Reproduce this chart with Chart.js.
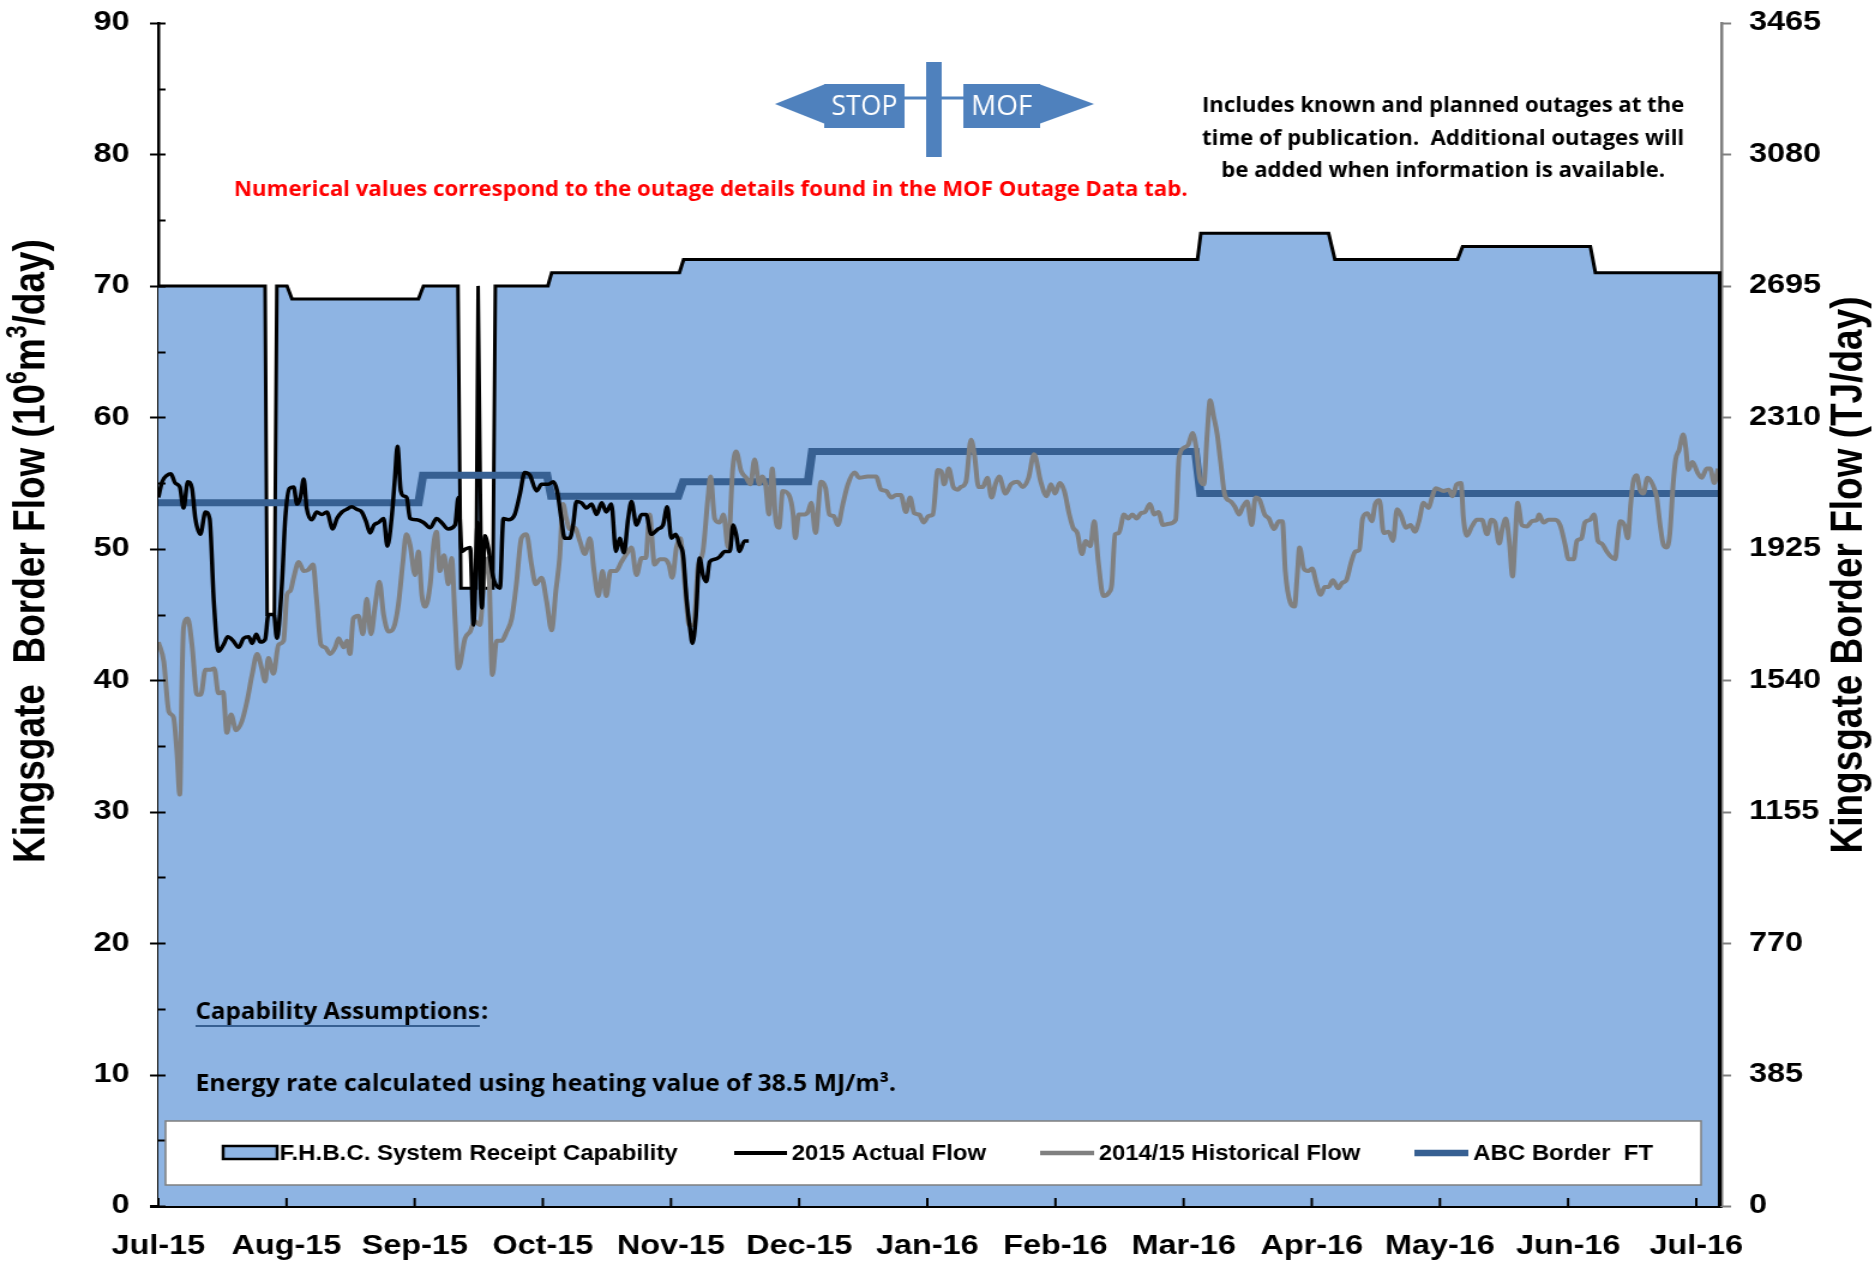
<!DOCTYPE html>
<html>
<head>
<meta charset="utf-8">
<script src="https://cdn.jsdelivr.net/npm/chart.js@4.4.1/dist/chart.umd.min.js"></script>
<style>
html, body { margin: 0; padding: 0; background: #fff; overflow: hidden; }
#wrap { width: 1563px; height: 1263px; transform: scaleX(1.19962); transform-origin: 0 0; }
</style>
</head>
<body>
<div id="wrap"><canvas id="chart" width="1563" height="1263"></canvas></div>
<script>
// x values are days since 1 Jul 2015
var monthLabels = ['Jul-15','Aug-15','Sep-15','Oct-15','Nov-15','Dec-15','Jan-16','Feb-16','Mar-16','Apr-16','May-16','Jun-16','Jul-16'];
var daysPerTick = 30.5;
var lastDay = 372;

var capability = [[0,70],[25.4,70],[25.9,45],[27.6,45],[28.2,70],[30.6,70],[31.8,69],[61.9,69],[63.1,70],[71.3,70],[72,47],[75.6,47],[76.1,70],[76.9,47],[79.6,47],[80.2,70],[92.7,70],[93.6,71],[124,71],[125,72],[247.3,72],[248.1,74],[278.5,74],[280,72],[309.2,72],[310.4,73],[340.8,73],[342,71],[372,71]];

var actualFlow = [[0,53.9],[0.9,55.1],[2.1,55.6],[3,55.7],[4,55.0],[5.1,54.7],[6,53.1],[7,55.1],[8,54.6],[8.8,52.3],[10,51.1],[11.2,52.8],[12.2,52.3],[13.2,46.0],[14.3,42.2],[15.5,42.7],[16.5,43.3],[17.8,43.0],[19.1,42.5],[20.3,43.2],[21.5,43.3],[22.3,42.8],[23.3,43.5],[24.3,42.9],[25.4,43.1],[26.2,45],[27.5,45],[28.2,43.2],[29.4,47.3],[30.2,52.3],[31.2,54.6],[32.2,54.7],[33,53.4],[33.8,53.9],[34.6,55.3],[35.3,53.1],[36.5,52.2],[37.7,52.8],[38.9,52.6],[40.1,52.8],[41.5,51.5],[42.5,52.3],[43.7,52.8],[44.8,53.0],[46,53.2],[47.2,53.0],[48.4,52.8],[49.4,52.1],[50.4,51.2],[51.3,51.8],[52.4,52.0],[53.6,52.3],[54.5,50.2],[55.5,52.3],[56.3,55.4],[56.9,57.8],[57.7,54.4],[58.5,54.0],[59.1,53.9],[59.9,52.3],[61.5,52.2],[63.1,52.0],[64.7,51.6],[66.2,52.3],[67.4,52.0],[69,51.5],[70.6,51.8],[71.4,53.9],[72.2,49.8],[73.2,50],[74.2,50.1],[75,44.2],[76,52],[77,45.5],[77.7,51],[78.5,50.1],[79.7,47.8],[81.3,47.0],[82.1,52.3],[83.3,52.2],[84.8,52.6],[86,54.1],[87.2,55.8],[88.4,55.6],[90,54.4],[91.2,54.9],[92.8,54.9],[94,55.1],[94.9,54.4],[95.9,52.3],[96.7,50.8],[97.9,50.8],[98.7,51.8],[99.5,53.6],[100.7,53.5],[101.9,53.1],[103.1,53.4],[104.3,52.6],[105.5,53.5],[106.6,52.8],[107.8,53.4],[108.9,49.8],[109.8,50.8],[110.8,49.7],[111.8,52.3],[112.6,53.6],[113.8,51.8],[115,52.6],[116.1,52.6],[117.3,51.1],[118.9,51.5],[120.1,51.8],[121.1,53.2],[122.1,50.8],[123.1,51.1],[124.1,50.3],[124.9,49.5],[125.7,46.2],[126.5,44.0],[127.1,42.8],[127.9,44.7],[128.8,49.3],[129.6,48.0],[130.4,47.5],[131.2,49.0],[132.4,49.2],[133.6,49.4],[134.8,49.8],[136,49.8],[136.8,51.8],[137.5,51.1],[138.3,49.8],[139.5,50.6],[140.5,50.6]];

var historicalFlow = [[0,42.9],[1.3,41.4],[2.5,37.6],[3.6,37.2],[4.4,34.6],[5.1,31.3],[5.6,39.7],[6,44],[7,44.7],[8,42.7],[9.2,38.9],[10.1,38.9],[11.2,40.8],[12.4,40.8],[13.3,40.9],[14.3,39.0],[15.4,39.1],[16.3,36.0],[17.3,37.4],[18.5,36.2],[19.9,36.9],[21.1,38.4],[22.3,40.4],[23.5,42.0],[24.6,40.9],[25.4,39.9],[26.2,41.7],[27.4,40.5],[28.6,42.7],[29.8,43.0],[30.6,46.5],[31.4,46.8],[32.2,47.8],[33.4,49.0],[34.6,48.3],[35.7,48.4],[36.8,48.8],[37.7,46.0],[38.7,42.7],[39.7,42.5],[40.9,42.0],[42.1,42.5],[42.9,43.2],[44.1,42.5],[44.9,43.0],[45.6,42.0],[46.4,44.7],[47.6,44.9],[48.7,43.5],[49.6,46.2],[50.6,43.5],[51.6,45.7],[52.6,47.5],[53.6,45.0],[54.8,43.7],[56,44.0],[57.1,45.7],[58.2,49.0],[59,51.1],[59.9,50.3],[61.1,48.0],[61.9,49.8],[62.7,46.5],[63.5,45.6],[64.7,47.3],[65.5,50.3],[66.2,51.3],[67,48.3],[68,49.5],[69,47.3],[69.8,49.3],[70.6,44.7],[71.4,40.9],[73,43.2],[74.2,43.7],[75.3,44.5],[76.5,44.2],[77.7,48.5],[78.5,49.3],[79.5,40.4],[80.5,43.0],[81.7,43.0],[82.9,43.7],[84.1,44.7],[85.2,47.3],[86.4,50.8],[87.6,51.1],[88.8,48.8],[89.8,47.3],[91.2,47.8],[92.4,46.0],[93.6,43.8],[94.6,46.8],[95.5,49.3],[96.3,53.4],[97.1,52.3],[97.9,51.5],[99.1,51.6],[100.3,50.6],[101.5,49.6],[102.7,50.8],[103.7,48.3],[104.7,46.4],[105.7,48.3],[106.6,46.4],[107.6,48.3],[108.9,48.3],[110.2,49.0],[111.4,49.6],[112.6,50.1],[113.8,48.0],[115,49.3],[116,49.3],[116.9,52.6],[118.1,48.8],[119.3,49.2],[120.5,49.2],[121.5,48.8],[122.3,47.8],[123.3,50.1],[124.2,50.8],[125.3,47.3],[126.3,44.2],[127.4,44.2],[128.4,48.5],[129.6,49.8],[130.8,53.9],[131.4,55.5],[132.4,52.3],[133.6,52.0],[134.5,52.6],[135.6,50.1],[136.7,56.1],[137.5,57.4],[138.7,55.9],[139.9,55.4],[140.9,54.9],[141.9,56.8],[143,54.9],[143.7,55.5],[144.5,54.9],[145.3,52.6],[146.1,56.1],[146.9,52.3],[147.7,51.6],[148.6,54.4],[150.2,54.0],[151,52.8],[151.6,50.8],[152.4,52.6],[153.8,52.6],[154.6,52.8],[155.4,53.5],[156.4,51.2],[157.7,55.1],[158.8,54.6],[159.7,52.6],[160.7,52.5],[161.7,51.8],[162.9,53.4],[164.1,54.9],[165.7,55.8],[166.8,55.4],[168.8,55.5],[170.8,55.5],[172,54.5],[173.2,54.4],[174.4,53.9],[175.6,54.1],[176.7,54.1],[177.9,52.8],[178.9,53.9],[179.9,52.7],[181.1,52.6],[182.1,52.0],[183.3,52.5],[184.3,52.6],[185.5,56.0],[186.3,55.9],[187,54.9],[188.1,56.1],[189.2,54.7],[190.2,54.5],[191,54.7],[192.2,55.1],[193.4,58.3],[194.2,57.2],[195.2,54.7],[196.2,54.7],[197.3,55.4],[198.3,53.9],[199.2,54.9],[200.1,55.5],[201.6,54.2],[202.9,54.9],[204.5,55.1],[205.7,54.7],[207.1,55.4],[208.4,57.2],[210,55.1],[211.4,54.0],[212.4,54.9],[213.4,54.2],[214.5,55.0],[215.6,54.4],[216.8,52.6],[217.7,51.6],[218.7,51.2],[219.8,49.6],[220.7,50.6],[221.8,50.2],[222.7,52.1],[223.7,49.0],[224.9,46.4],[226.3,46.7],[226.9,47.3],[227.7,51.1],[228.6,51.2],[229.8,52.6],[230.8,52.3],[231.8,52.6],[232.8,52.3],[233.8,52.7],[234.8,52.8],[236,53.4],[237,52.6],[238,52.8],[239.1,51.8],[240.5,51.9],[242.1,52.2],[242.9,56.9],[244.1,57.7],[245.1,57.9],[246.1,58.8],[247,57.7],[247.8,55.4],[248.8,54.9],[249.6,58.7],[250.3,61.3],[251.2,60.0],[252,58.7],[252.8,56.6],[253.8,54.1],[255.2,53.6],[256.2,53.2],[257.2,52.6],[258.1,53.2],[259.1,53.6],[260.2,51.8],[261.1,53.9],[262.1,53.7],[263.3,52.6],[264.3,52.3],[265.5,51.5],[266.7,52.1],[267.5,52.1],[268.2,48.3],[269.4,45.9],[270.4,45.6],[271,47.8],[271.6,50.1],[272.6,48.5],[273.6,48.3],[274.6,48.5],[275.5,47.5],[276.6,46.5],[277.6,47.1],[278.5,47.1],[279.5,47.6],[280.8,47.0],[281.7,47.4],[282.7,47.6],[283.9,49.0],[284.9,49.8],[285.8,49.9],[286.6,52.3],[287.7,52.7],[288.8,52.1],[289.6,53.4],[290.6,53.7],[291.6,51.2],[292.8,51.3],[293.8,50.6],[294.8,53.0],[295.8,52.5],[296.9,51.6],[298,51.8],[299,51.3],[300,52.1],[301.1,53.5],[302.3,53.1],[303.1,53.9],[304,54.6],[305.9,54.4],[307.1,54.5],[308,54.0],[309,54.9],[310,55.0],[310.6,52.3],[311.4,51.0],[312.6,51.7],[313.8,52.2],[315,52.2],[316.2,51.1],[317.2,52.2],[318.1,52.0],[319.1,50.4],[319.9,51.6],[320.7,52.3],[321.5,50.6],[322.3,47.9],[322.9,50.8],[323.5,53.5],[324.5,51.8],[325.7,51.7],[326.9,52.1],[328.1,52.2],[328.6,52.6],[329.6,52.0],[330.8,52.2],[332.4,52.2],[333.6,51.8],[334.8,50.3],[335.6,49.2],[336.8,49.2],[337.6,50.6],[338.7,50.8],[339.5,52.0],[340.7,52.2],[341.7,52.6],[342.6,50.6],[343.5,50.4],[344.7,49.8],[345.7,49.4],[346.7,49.2],[347.3,50.8],[347.9,52.1],[348.9,51.8],[349.7,50.8],[350.4,53.4],[351,55.1],[351.8,55.6],[352.6,54.5],[353.4,54.2],[354.4,55.4],[355.6,54.9],[356.6,53.9],[357.4,51.8],[358.2,50.3],[359,50.1],[359.7,51.1],[360.5,54.9],[361.1,56.8],[361.9,57.5],[362.9,58.7],[363.5,57.7],[364.1,56.0],[365.1,56.6],[366.3,55.8],[367.3,55.4],[368.5,56.1],[369.3,56.1],[370.3,55.0],[371.2,56.1]];

var abcBorderFT = [[0,53.5],[61.9,53.5],[63,55.6],[92.5,55.6],[93.5,54.0],[123.7,54.0],[124.9,55.1],[154.6,55.1],[155.6,57.4],[246.8,57.4],[248,54.2],[372,54.2]];

var leftMax = 90, leftStep = 10;
var rightMax = 3465, rightStep = 385;

var calibri = '"Open Sans", "Noto Sans", sans-serif';
var areaBlue = '#8EB4E3', ftBlue = '#376092', arrowBlue = '#4F81BD';

function pts(arr) {
	return arr.map(function(p) { return { x: p[0], y: p[1] }; });
}

// draw text squeezed/stretched to a given width
function fitText(ctx, text, x, y, w, align) {
	var m = ctx.measureText(text).width;
	var x0 = align === 'center' ? x - w / 2 : (align === 'right' ? x - w : x);
	ctx.save();
	ctx.translate(x0, y);
	ctx.scale(w / m, 1);
	ctx.textAlign = 'left';
	ctx.fillText(text, 0, 0);
	ctx.restore();
}

// rotated axis title with superscripts
function drawTitle(ctx, parts, cx, cy, size) {
	var mainF = 'bold ' + size + 'px "Liberation Sans", Arial, sans-serif';
	var supF = 'bold ' + Math.round(size * 0.62) + 'px "Liberation Sans", Arial, sans-serif';
	var total = 0;
	parts.forEach(function(p) { ctx.font = p[1] ? supF : mainF; total += ctx.measureText(p[0]).width; });
	ctx.save();
	ctx.translate(cx, cy);
	ctx.rotate(-Math.PI / 2);
	ctx.textBaseline = 'middle';
	ctx.fillStyle = '#000';
	var pos = -total / 2;
	parts.forEach(function(p) {
		ctx.font = p[1] ? supF : mainF;
		ctx.fillText(p[0], pos, p[1] ? -size * 0.32 : 0);
		pos += ctx.measureText(p[0]).width;
	});
	ctx.restore();
}

function noPad(scale) {
	scale.paddingTop = 0;
	scale.paddingBottom = 0;
	scale.paddingLeft = 0;
	scale.paddingRight = 0;
}

var decor = {
	id: 'decor',
	afterDraw: function(chart) {
		var ctx = chart.ctx;
		var xs = chart.scales.x, ys = chart.scales.y, ys2 = chart.scales.y2;
		var area = chart.chartArea;
		var i, p;
		ctx.save();

		// right edge of the capability area
		var last = capability[capability.length - 1];
		ctx.strokeStyle = '#000';
		ctx.lineWidth = 3;
		ctx.beginPath();
		ctx.moveTo(xs.getPixelForValue(last[0]) - 1.5, ys.getPixelForValue(last[1]));
		ctx.lineTo(xs.getPixelForValue(last[0]) - 1.5, ys.getPixelForValue(0));
		ctx.stroke();

		// left axis ticks (major crossing, minor inside)
		ctx.strokeStyle = '#000';
		ctx.lineWidth = 2;
		for (i = 0; i <= leftMax; i += leftStep / 2) {
			p = Math.round(ys.getPixelForValue(i)) + 0.5;
			ctx.beginPath();
			ctx.moveTo(area.left - (i % leftStep === 0 ? 7 : 0), p);
			ctx.lineTo(area.left + 6, p);
			ctx.stroke();
		}
		// right axis ticks
		ctx.strokeStyle = '#808080';
		for (i = 0; i <= rightMax; i += rightStep) {
			p = Math.round(ys2.getPixelForValue(i)) + 0.5;
			ctx.beginPath();
			ctx.moveTo(area.right, p);
			ctx.lineTo(area.right + 8, p);
			ctx.stroke();
		}
		// month ticks, pointing up
		ctx.strokeStyle = '#000';
		for (i = 0; i < monthLabels.length; i++) {
			p = xs.getPixelForValue(i * daysPerTick);
			ctx.beginPath();
			ctx.moveTo(p, area.bottom);
			ctx.lineTo(p, area.bottom - 8);
			ctx.stroke();
		}
		ctx.lineWidth = 3;
		ctx.beginPath();
		ctx.moveTo(area.left - 7, area.bottom + 0.5);
		ctx.lineTo(area.left, area.bottom + 0.5);
		ctx.stroke();

		// axis titles
		drawTitle(ctx, [['Kingsgate  Border Flow (10', false], ['6', true], ['m', false], ['3', true], ['/day)', false]], 27, 551, 37);
		drawTitle(ctx, [['Kingsgate Border Flow (TJ/day)', false]], 1542, 575, 37);

		// legend box
		ctx.fillStyle = '#fff';
		ctx.fillRect(138, 1121, 1280, 64);
		ctx.strokeStyle = '#7f7f7f';
		ctx.lineWidth = 1.5;
		ctx.strokeRect(138, 1121, 1280, 64);
		var ly = 1153;
		ctx.fillStyle = areaBlue;
		ctx.fillRect(186, 1146, 45, 13);
		ctx.strokeStyle = '#000';
		ctx.lineWidth = 2.5;
		ctx.strokeRect(186, 1146, 45, 13);
		ctx.lineCap = 'butt';
		[[612, 656, '#000', 4], [867, 912, '#808080', 4.5], [1179, 1224, ftBlue, 6.5]].forEach(function(s) {
			ctx.strokeStyle = s[2];
			ctx.lineWidth = s[3];
			ctx.beginPath();
			ctx.moveTo(s[0], ly);
			ctx.lineTo(s[1], ly);
			ctx.stroke();
		});
		ctx.fillStyle = '#000';
		ctx.font = 'bold 22px "Liberation Sans", Arial, sans-serif';
		ctx.textBaseline = 'middle';
		fitText(ctx, 'F.H.B.C. System Receipt Capability', 233, ly + 1, 332, 'left');
		fitText(ctx, '2015 Actual Flow', 660, ly + 1, 162, 'left');
		fitText(ctx, '2014/15 Historical Flow', 916, ly + 1, 218, 'left');
		fitText(ctx, 'ABC Border  FT', 1228, ly + 1, 150, 'left');

		// notes
		ctx.fillStyle = '#FF0000';
		ctx.font = 'bold 22px ' + calibri;
		fitText(ctx, 'Numerical values correspond to the outage details found in the MOF Outage Data tab.', 195, 190, 795, 'left');
		ctx.fillStyle = '#000';
		ctx.font = 'bold 21px ' + calibri;
		fitText(ctx, 'Includes known and planned outages at the', 1203, 106, 402, 'center');
		fitText(ctx, 'time of publication.  Additional outages will', 1203, 139, 402, 'center');
		fitText(ctx, 'be added when information is available.', 1203, 171, 370, 'center');
		ctx.font = 'bold 23px ' + calibri;
		fitText(ctx, 'Capability Assumptions', 163, 1012, 237, 'left');
		fitText(ctx, ':', 401, 1012, 6, 'left');
		ctx.lineWidth = 2;
		ctx.beginPath();
		ctx.moveTo(163, 1026);
		ctx.lineTo(400, 1026);
		ctx.stroke();
		fitText(ctx, 'Energy rate calculated using heating value of 38.5 MJ/m\u00B3.', 163, 1084, 584, 'left');

		// STOP / MOF arrow graphic
		ctx.fillStyle = arrowBlue;
		ctx.strokeStyle = arrowBlue;
		ctx.fillRect(687, 84, 67, 44);
		ctx.fillRect(803, 84, 64, 44);
		ctx.fillRect(772, 62, 13, 95);
		ctx.lineWidth = 3;
		ctx.beginPath();
		ctx.moveTo(754, 98); ctx.lineTo(772, 98);
		ctx.moveTo(785, 98); ctx.lineTo(803, 98);
		ctx.stroke();
		ctx.beginPath();
		ctx.moveTo(646, 104); ctx.lineTo(688, 84); ctx.lineTo(688, 124); ctx.closePath();
		ctx.moveTo(912, 104); ctx.lineTo(866, 84); ctx.lineTo(866, 124); ctx.closePath();
		ctx.fill();
		ctx.fillStyle = '#fff';
		ctx.font = '28px ' + calibri;
		fitText(ctx, 'STOP', 720.5, 107, 55, 'center');
		fitText(ctx, 'MOF', 835, 107, 51, 'center');

		ctx.restore();
	}
};

var tickFont = { family: '"Liberation Sans", Arial, sans-serif', size: 27, weight: 'bold' };

var chart = new Chart(document.getElementById('chart').getContext('2d'), {
	type: 'line',
	data: {
		datasets: [{
			label: '2015 Actual Flow',
			data: pts(actualFlow),
			borderColor: '#000',
			borderWidth: 3.5,
			cubicInterpolationMode: 'monotone',
			borderJoinStyle: 'round',
			fill: false,
			order: 1
		}, {
			label: '2014/15 Historical Flow',
			data: pts(historicalFlow),
			borderColor: '#808080',
			borderWidth: 4,
			cubicInterpolationMode: 'monotone',
			borderJoinStyle: 'round',
			fill: false,
			order: 2
		}, {
			label: 'ABC Border  FT',
			data: pts(abcBorderFT),
			borderColor: ftBlue,
			borderWidth: 7,
			tension: 0,
			fill: false,
			order: 3
		}, {
			label: 'F.H.B.C. System Receipt Capability',
			data: pts(capability),
			borderColor: '#000',
			borderWidth: 3,
			backgroundColor: areaBlue,
			tension: 0,
			fill: 'origin',
			order: 4
		}]
	},
	options: {
		responsive: false,
		animation: false,
		devicePixelRatio: 1,
		layout: { padding: { top: 23, left: 0, right: 0, bottom: 0 } },
		elements: { point: { radius: 0 } },
		plugins: { legend: { display: false }, tooltip: { enabled: false } },
		scales: {
			x: {
				type: 'linear',
				min: 0,
				max: lastDay,
				grid: { display: false, drawTicks: false },
				border: { color: '#000', width: 3 },
				afterBuildTicks: function(scale) {
					scale.ticks = monthLabels.map(function(l, i) { return { value: i * daysPerTick }; });
				},
				ticks: {
					autoSkip: false,
					maxRotation: 0,
					padding: 24,
					color: '#000',
					font: tickFont,
					callback: function(v, i) { return monthLabels[i]; }
				},
				afterFit: function(scale) { scale.height = 57; noPad(scale); }
			},
			y: {
				position: 'left',
				min: 0,
				max: leftMax,
				grid: { display: false, drawTicks: false },
				border: { color: '#000', width: 2.5 },
				ticks: { stepSize: leftStep, padding: 24, color: '#000', font: tickFont, callback: function(v) { return String(v); } },
				afterFit: function(scale) { scale.width = 132; noPad(scale); }
			},
			y2: {
				position: 'right',
				min: 0,
				max: rightMax,
				grid: { display: false, drawTicks: false },
				border: { color: '#808080', width: 2.5 },
				ticks: { stepSize: rightStep, padding: 23, color: '#000', font: tickFont, callback: function(v) { return String(v); } },
				afterFit: function(scale) { scale.width = 128; noPad(scale); }
			}
		}
	},
	plugins: [decor]
});
</script>
</body>
</html>
